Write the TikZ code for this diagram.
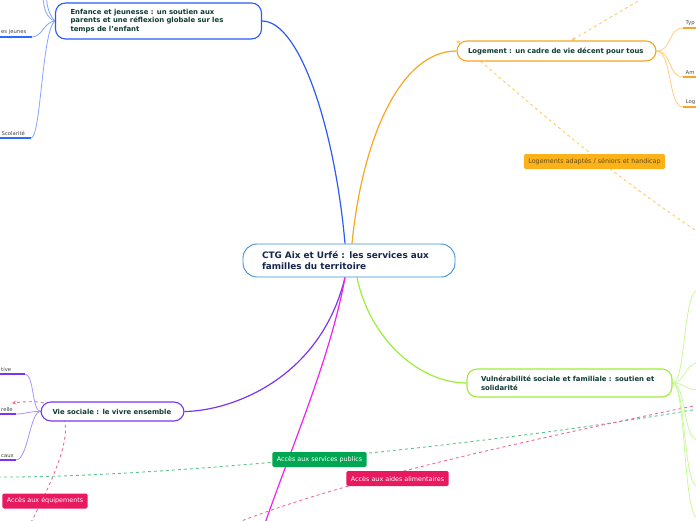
\documentclass[tikz,border=0pt]{standalone}
\usepackage{fontspec}
\setmainfont{DejaVu Sans}
\usetikzlibrary{arrows.meta}
\pgfdeclarelayer{bg}
\pgfsetlayers{bg,main}
\definecolor{ctrblue}{HTML}{3C8FD6}
\definecolor{ctrtext}{HTML}{16264C}
\definecolor{nodetext}{HTML}{0E3B30}
\definecolor{enfblue}{HTML}{2B5BF5}
\definecolor{enfleaf}{HTML}{86A4FF}
\definecolor{enfunder}{HTML}{2F6BFF}
\definecolor{logorange}{HTML}{F5A623}
\definecolor{logleaf}{HTML}{FFCC80}
\definecolor{logdash}{HTML}{FFCB66}
\definecolor{vieviolet}{HTML}{7B35F0}
\definecolor{vieleaf}{HTML}{AD90FF}
\definecolor{vulgreen}{HTML}{9DEE3A}
\definecolor{vulleaf}{HTML}{C8F89A}
\definecolor{magentaline}{HTML}{EE22EE}
\definecolor{labpink}{HTML}{E8195E}
\definecolor{labgreen}{HTML}{00A651}
\definecolor{laborange}{HTML}{FBB31B}
\definecolor{labotext}{HTML}{6A4A10}
\definecolor{pinkdash}{HTML}{EE6A95}
\definecolor{greendash}{HTML}{5CC48A}
\definecolor{leafgray}{HTML}{444444}
\begin{document}
\begin{tikzpicture}[x=1pt,y=-1pt,
  branch/.style={draw, line width=1.1pt, rounded corners=10pt, fill=white,
    font=\fontsize{6.9}{8.6}\selectfont\bfseries, text=nodetext, align=left, inner ysep=0pt},
  mainedge/.style={line width=1.2pt},
  leafedge/.style={line width=0.8pt},
  under/.style={line width=2pt},
  leaflab/.style={font=\fontsize{5.3}{6}\selectfont, text=leafgray, inner sep=0.5pt},
  lab/.style={rounded corners=1.5pt, font=\fontsize{6.4}{7}\selectfont, inner xsep=4.5pt, inner ysep=0pt, minimum height=15pt},
  dsh/.style={dash pattern=on 3pt off 3pt, line width=0.9pt},
  >={Stealth[length=4pt,width=4pt]}]
\useasboundingbox (0,0) rectangle (696,520);

% free ends
\coordinate (enfT1) at (43,-2);
\coordinate (enfT2) at (46.5,-2);
\coordinate (jeuE) at (32,37);
\coordinate (jeuW) at (-2,37);
\coordinate (scoE) at (31,138);
\coordinate (scoW) at (-2,138);
\coordinate (typW) at (683,28);
\coordinate (typE) at (698,28);
\coordinate (amW) at (683,77);
\coordinate (amE) at (698,77);
\coordinate (lgW) at (683,107);
\coordinate (lgE) at (698,107);
\coordinate (tivE) at (25,374);
\coordinate (tivW) at (-2,374);
\coordinate (relE) at (16,414);
\coordinate (relW) at (-2,414);
\coordinate (cauE) at (16,460);
\coordinate (cauW) at (-2,460);
\coordinate (magB) at (262,532);
\coordinate (topO) at (643,-2);
\coordinate (rO) at (700,233);
\coordinate (pinkB) at (28,528);
\coordinate (pinkA) at (12,403);
\coordinate (gL) at (-2,477);
\coordinate (gR) at (698,409);
\coordinate (pL) at (226,527);
\coordinate (pR) at (698,405);
\coordinate (v1) at (698,290);
\coordinate (v2) at (698,363);
\coordinate (v3) at (698,390);
\coordinate (v4) at (698,440);
\coordinate (v5) at (698,487);
\coordinate (v6) at (698,518);

% nodes
\node[branch, draw=ctrblue, line width=0.9pt, rounded corners=14pt, font=\fontsize{8.9}{11}\selectfont\bfseries, text=ctrtext,
  inner xsep=19pt, text width=174pt, minimum height=33pt] (c) at (349,260.5)
  {CTG Aix et Urfé : les services aux\\familles du territoire};
\node[branch, draw=enfblue, inner xsep=15pt, text width=176pt, minimum height=36pt] (enf) at (158.5,21)
  {Enfance et jeunesse : un soutien aux\\parents et une réflexion globale sur les\\temps de l'enfant};
\node[branch, draw=logorange, inner xsep=11pt, text width=177pt, minimum height=20pt] (log) at (556.5,51)
  {Logement : un cadre de vie décent pour tous};
\node[branch, draw=vieviolet, inner xsep=11.5pt, text width=120pt, minimum height=19pt] (vie) at (112.5,411.5)
  {Vie sociale : le vivre ensemble};
\node[branch, draw=vulgreen, inner xsep=14pt, text width=177pt, minimum height=28pt] (vul) at (569.5,383)
  {Vulnérabilité sociale et familiale : soutien et\\solidarité};

% labels on relations
\node[lab, fill=laborange, text=labotext] (ladapt) at (594.5,161.5) {Logements adaptés / séniors et handicap};
\node[lab, fill=labgreen, text=white] (lserv) at (319.5,459.5) {Accès aux services publics};
\node[lab, fill=labpink, text=white] (lalim) at (397.5,478.5) {Accès aux aides alimentaires};
\node[lab, fill=labpink, text=white] (lequip) at (45,501) {Accès aux équipements};

% leaf labels
\node[leaflab, anchor=south west] (jeu) at (0.5,35.5) {es jeunes};
\node[leaflab, anchor=south west] (sco) at (1,136.5) {Scolarité};
\node[leaflab, anchor=south west] (typ) at (685,26.5) {Typ};
\node[leaflab, anchor=south west] (am) at (685,75.5) {Am};
\node[leaflab, anchor=south west] (lg) at (685,105.5) {Log};
\node[leaflab, anchor=south west] (tiv) at (0.5,372.5) {tive};
\node[leaflab, anchor=south west] (rel) at (0.5,412.5) {relle};
\node[leaflab, anchor=south west] (cau) at (0.5,458.5) {caux};

\begin{pgfonlayer}{bg}
% dashed relations
\draw[dsh, logdash, ->] (topO) -- ([xshift=15pt]log.north);
\draw[dsh, logdash, ->] (rO) .. controls (610,175) and (520,95) .. (log.north west);
\draw[dsh, pinkdash, ->] (pinkB) .. controls (80,430) and (80,395) .. (pinkA);
\draw[dsh, greendash] (gL) .. controls (150,478) and (480,447) .. (gR);
\draw[dsh, pinkdash] (pL) .. controls (330,485) and (480,450) .. (pR);

% main edges
\draw[mainedge, enfblue] ([xshift=-4pt]c.north) .. controls (335,130) and (300,21) .. (enf.east);
\draw[mainedge, logorange] ([xshift=3pt]c.north) .. controls (362,140) and (400,51) .. (log.west);
\draw[mainedge, vieviolet] ([xshift=-4pt]c.south) .. controls (320,380) and (230,411) .. (vie.east);
\draw[mainedge, magentaline] ([xshift=-4pt]c.south) .. controls (330,360) and (290,450) .. (magB);
\draw[mainedge, vulgreen] ([xshift=8pt]c.south) .. controls (370,340) and (420,383) .. (vul.west);

% Enfance leaves
\draw[leafedge, enfleaf] (enf.west) .. controls (46,18) and (44,8) .. (enfT1);
\draw[leafedge, enfleaf] (enf.west) .. controls (49,15) and (47,6) .. (enfT2);
\draw[leafedge, enfleaf] (enf.west) .. controls (44,22) and (42,37) .. (jeuE);
\draw[leafedge, enfleaf] (enf.west) .. controls (42,30) and (41,138) .. (scoE);
\draw[under, enfunder] (jeuW) -- (jeuE);
\draw[under, enfunder] (scoW) -- (scoE);

% Logement leaves
\draw[leafedge, logleaf] (log.east) .. controls (672,51) and (668,28) .. (typW);
\draw[leafedge, logleaf] (log.east) .. controls (672,51) and (668,77) .. (amW);
\draw[leafedge, logleaf] (log.east) .. controls (672,51) and (668,107) .. (lgW);
\draw[under, logorange] (typW) -- (typE);
\draw[under, logorange] (amW) -- (amE);
\draw[under, logorange] (lgW) -- (lgE);

% Vie sociale leaves
\draw[leafedge, vieleaf] (vie.west) .. controls (32,411) and (34,374) .. (tivE);
\draw[leafedge, vieleaf] (vie.west) .. controls (30,411) and (26,414) .. (relE);
\draw[leafedge, vieleaf] (vie.west) .. controls (30,411) and (28,460) .. (cauE);
\draw[under, vieviolet] (tivW) -- (tivE);
\draw[under, vieviolet] (relW) -- (relE);
\draw[under, vieviolet] (cauW) -- (cauE);

% Vulnerabilite leaves
\draw[leafedge, vulleaf] (vul.east) .. controls (686,383) and (683,290) .. (v1);
\draw[leafedge, vulleaf] (vul.east) .. controls (685,383) and (685,363) .. (v2);
\draw[leafedge, vulleaf] (vul.east) .. controls (685,383) and (685,390) .. (v3);
\draw[leafedge, vulleaf] (vul.east) .. controls (686,383) and (683,440) .. (v4);
\draw[leafedge, vulleaf] (vul.east) .. controls (686,383) and (683,487) .. (v5);
\draw[leafedge, vulleaf] (vul.east) .. controls (686,383) and (683,518) .. (v6);
\end{pgfonlayer}
\end{tikzpicture}
\end{document}
